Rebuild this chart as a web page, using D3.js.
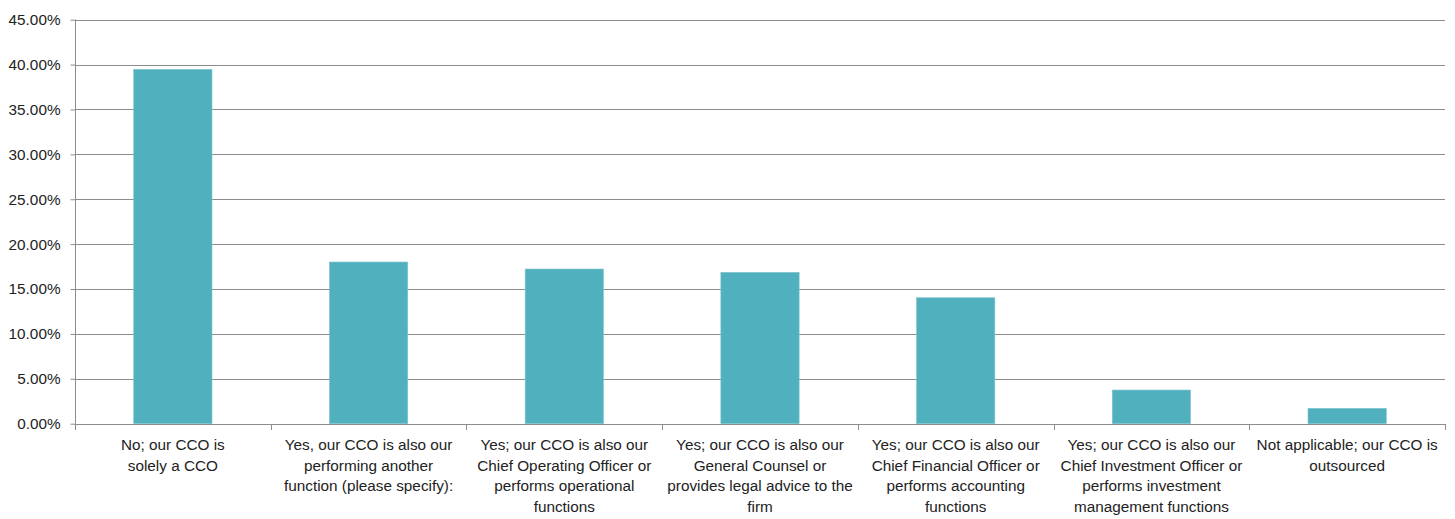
<!DOCTYPE html>
<html>
<head>
<meta charset="utf-8">
<script src="https://cdn.jsdelivr.net/npm/d3@7/dist/d3.min.js"></script>
<style>
  html, body { margin: 0; padding: 0; background: #fff; }
  svg { display: block; }
  text { font-family: "Liberation Sans", Arial, sans-serif; fill: #222; }
</style>
</head>
<body>
<svg id="chart" width="1455" height="519"></svg>
<script>
// Survey responses: does the CCO hold another role?
const categories = [
  "No; our CCO is solely a CCO",
  "Yes, our CCO is also our performing another function (please specify):",
  "Yes; our CCO is also our Chief Operating Officer or performs operational functions",
  "Yes; our CCO is also our General Counsel or provides legal advice to the firm",
  "Yes; our CCO is also our Chief Financial Officer or performs accounting functions",
  "Yes; our CCO is also our Chief Investment Officer or performs investment management functions",
  "Not applicable; our CCO is outsourced"
];
// Wrapped lines for each category label
const categoryLines = [
  ["No; our CCO is", "solely a CCO"],
  ["Yes, our CCO is also our", "performing another", "function (please specify):"],
  ["Yes; our CCO is also our", "Chief Operating Officer or", "performs operational", "functions"],
  ["Yes; our CCO is also our", "General Counsel or", "provides legal advice to the", "firm"],
  ["Yes; our CCO is also our", "Chief Financial Officer or", "performs accounting", "functions"],
  ["Yes; our CCO is also our", "Chief Investment Officer or", "performs investment", "management functions"],
  ["Not applicable; our CCO is", "outsourced"]
];
const values = [39.47, 18.01, 17.23, 16.86, 14.03, 3.75, 1.71];
const yTicks = [0, 5, 10, 15, 20, 25, 30, 35, 40, 45];

const svg = d3.select("#chart");
const margin = { left: 75, right: 10, top: 19.7, bottom: 95.3 };
const W = 1455, H = 519;
const FONT = 15.3;

const x = d3.scaleBand()
  .domain(categories)
  .range([margin.left, W - margin.right])
  .paddingInner(0.6)
  .paddingOuter(0.3);

const y = d3.scaleLinear()
  .domain([0, 45])
  .range([H - margin.bottom, margin.top]);

// Horizontal gridlines
svg.append("g")
  .selectAll("line")
  .data(yTicks.filter(t => t > 0))
  .join("line")
  .attr("x1", margin.left)
  .attr("x2", W - margin.right)
  .attr("y1", d => Math.round(y(d)) + 0.5)
  .attr("y2", d => Math.round(y(d)) + 0.5)
  .attr("stroke", "#8c8c8c")
  .attr("stroke-width", 1);

// Bars
svg.append("g")
  .selectAll("rect")
  .data(values)
  .join("rect")
  .attr("x", (d, i) => x(categories[i]))
  .attr("y", d => y(d))
  .attr("width", x.bandwidth())
  .attr("height", d => y(0) - y(d))
  .attr("fill", "#51b0bd")
  .attr("stroke", "#7cc6cf")
  .attr("stroke-width", 0.6);

// Y axis
const yAxis = d3.axisLeft(y)
  .tickValues(yTicks)
  .tickSize(5)
  .tickPadding(10)
  .tickFormat(d => d.toFixed(2) + "%");
const gy = svg.append("g")
  .attr("transform", `translate(${margin.left + 0.5},0)`)
  .call(yAxis);
gy.select(".domain").attr("stroke", "#8c8c8c").attr("d", `M0,${y(45)}V${y(0)}`);
gy.selectAll(".tick line").attr("stroke", "#8c8c8c");
gy.selectAll(".tick text")
  .attr("font-size", FONT)
  .style("font-family", '"Liberation Sans", Arial, sans-serif')
  .attr("fill", "#222");

// X axis baseline and category dividers
const bounds = d3.range(categories.length + 1).map(i => margin.left + i * (W - margin.left - margin.right) / categories.length);
svg.append("line")
  .attr("x1", margin.left)
  .attr("x2", W - margin.right)
  .attr("y1", Math.round(y(0)) + 0.5)
  .attr("y2", Math.round(y(0)) + 0.5)
  .attr("stroke", "#8c8c8c");
svg.append("g")
  .selectAll("line")
  .data(bounds)
  .join("line")
  .attr("x1", d => Math.round(d) + 0.5)
  .attr("x2", d => Math.round(d) + 0.5)
  .attr("y1", Math.round(y(0)))
  .attr("y2", Math.round(y(0)) + 6)
  .attr("stroke", "#8c8c8c");

// Category labels
const labels = svg.append("g")
  .selectAll("text")
  .data(categories)
  .join("text")
  .attr("text-anchor", "middle")
  .attr("font-size", FONT)
  .attr("x", d => x(d) + x.bandwidth() / 2)
  .attr("y", y(0) + 26.5);
labels.each(function(d, i) {
  d3.select(this).selectAll("tspan")
    .data(categoryLines[i])
    .join("tspan")
    .attr("x", x(d) + x.bandwidth() / 2)
    .attr("dy", (t, j) => j === 0 ? 0 : 20.6)
    .text(t => t);
});
</script>
</body>
</html>
